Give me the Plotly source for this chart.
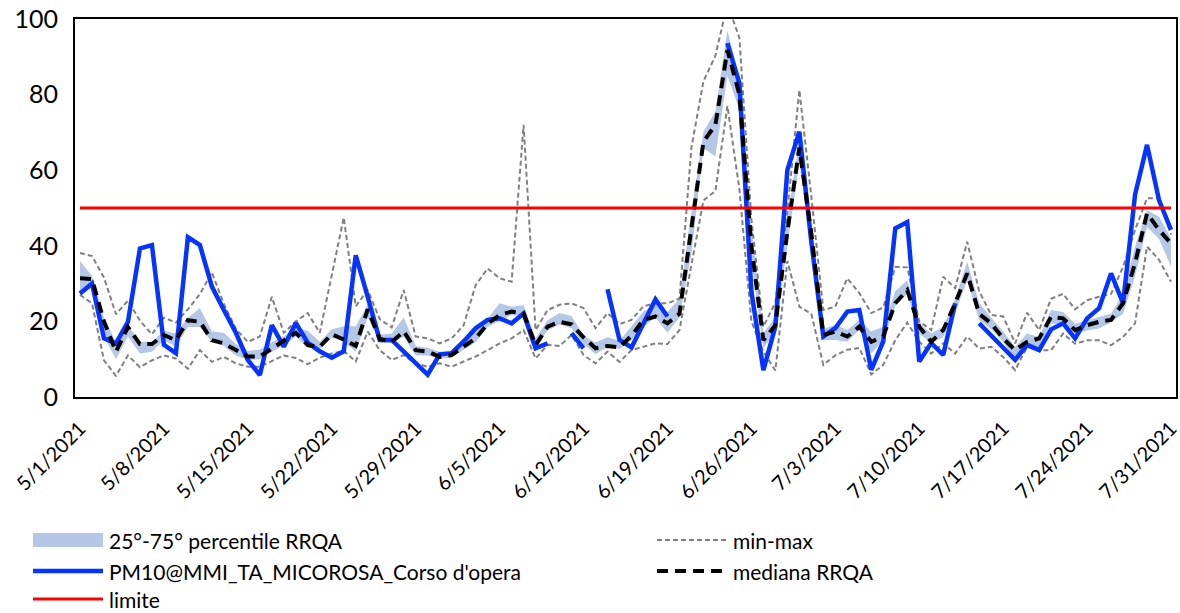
import pandas as pd
import plotly.graph_objects as go

dates = pd.date_range("2021-05-01", periods=92, freq="D")

pm10 = [27.4, 30, 15.5, 14.2, 19.9, 39.3, 40.2, 13.8, 11.6, 42.3,
        40.2, 29.2, 23, 17, 9.8, 5.8, 19, 13.3, 19.6, 14.3,
        12.1, 10.4, 12.1, 37.5, 26.5, 15.1, 15.1, 12, 9, 5.9,
        11.3, 11.6, 14.7, 18.2, 20.4, 20.8, 19.5, 22.1, 12.9, 14.2,
        None, 16.9, 12.9, None, 28.5, 15.1, 13.1, 19.5, 25.8, 21.3,
        None, None, None, None, 93.6, 83, 27.9, 7.1, 18.6, 60,
        70.2, 41, 16, 18.2, 22.6, 23, 7.2, 14.7, 44.6, 46.3,
        9.4, 14.3, 11.1, 24.8, None, 19.5, 16.4, 13.3, 9.8, 13.8,
        12.4, 17.9, 19.5, 15.5, 20.8, 23.5, 32.7, 24.8, 53.5, 66.7,
        52.1, 44.2]

mediana = [31.4, 31.2, 20, 12, 18.5, 14, 14, 16.4, 15, 20.3,
           19.9, 15, 14.2, 12.4, 10.7, 10.7, 12.9, 14.8, 17, 13.7,
           13.3, 16.6, 15.2, 13.5, 23.2, 15.4, 14.5, 17.4, 12.4, 12,
           10.6, 11.1, 13.3, 15.5, 19.4, 21.7, 22.6, 22.1, 13.7, 18.6,
           19.9, 19.2, 15.8, 12.9, 13.5, 13.1, 16.2, 20.4, 21.3, 19.5,
           22, 44, 67.5, 72, 91.8, 80, 40, 15, 19, 43.7,
           66, 43.3, 16.4, 17.3, 16, 18.6, 14.6, 16, 24.8, 28.3,
           18.6, 14.6, 17.7, 24.8, 32.7, 22, 19.5, 15.5, 12.4, 14.6,
           15.5, 21.2, 20.8, 17.7, 19, 19.9, 20.4, 24.8, 35.4, 48.6,
           44.2, 40.6]

p75 = [36, 32, 21, 14.5, 19, 14.5, 14.6, 17.5, 16.8, 21,
       23.5, 17.3, 17, 14, 12.2, 12.5, 14.5, 16, 18.3, 17.5,
       14.6, 17.9, 18.7, 18.7, 24.5, 16.5, 16.8, 21, 13.5, 13,
       12, 11.8, 15.5, 18, 20.7, 24.8, 23.9, 24.3, 15.5, 20.3,
       22.2, 21.4, 16.2, 14.4, 15.8, 14.9, 18.6, 22.6, 24.5, 22.5,
       26, 49, 70.2, 75.5, 97, 84, 45, 17, 21, 47,
       68, 46, 18, 19.1, 17.7, 20.4, 17.3, 18.6, 28, 30.9,
       19.5, 16.8, 18.6, 26, 35.8, 24.8, 21, 17.3, 13.2, 16.8,
       15.9, 23, 22.5, 19.4, 20.3, 21.2, 22, 27.3, 39.8, 49.4,
       47.7, 42]

p25 = [27, 29, 16, 10, 16, 11.5, 12, 15, 13.3, 18.5,
       18.5, 14.6, 13.5, 11, 9.8, 10, 12, 13.5, 16, 13,
       12.6, 15.7, 14.7, 12, 21.1, 14.5, 14.2, 16, 11, 11,
       10.2, 10.4, 12.5, 14.5, 18.5, 20, 21.7, 21.3, 13.3, 17.6,
       19.2, 18.2, 14, 11.3, 13.3, 12.7, 15.1, 18.6, 21, 17,
       21, 38, 65.8, 63.6, 85, 76, 36, 13, 17, 40,
       62, 40, 15, 15.1, 14.6, 17.7, 11.6, 15, 24, 27.4,
       16.8, 14.2, 15.9, 22.2, 30.9, 20.4, 18, 14.6, 9.8, 14.1,
       12.4, 19.4, 19.4, 16.8, 17.6, 18.1, 19.8, 22, 31.9, 45,
       41.8, 34.5]

vmax = [38.1, 37.3, 31.6, 21.9, 25.5, 20.2, 16.6, 21, 19.7, 23.2,
        27.2, 33, 24.6, 18, 14.6, 16, 26.5, 17, 20, 22.2,
        17, 32, 47.5, 24, 28.3, 20.6, 18.4, 28.3, 16, 15.5,
        14.2, 15.5, 19, 29.6, 34, 31.4, 30.5, 72, 17.7, 23,
        24.4, 24.8, 23.5, 18.2, 22.2, 19.3, 20.4, 24, 24.8, 24.8,
        26, 66, 83.5, 90.3, 104, 95, 47, 18.6, 25, 49,
        81.2, 53, 23, 23.9, 31.4, 27.5, 22.2, 23.7, 34.4, 34.3,
        20, 17.7, 31.8, 28.8, 41.1, 28, 21.7, 21.3, 14.2, 22.3,
        17.7, 26, 27.3, 23.2, 25.6, 26.5, 27.3, 34.4, 44.2, 52.6,
        52.6, 43]

vmin = [27, 24.8, 9.7, 5.6, 11, 7.9, 9.7, 11, 10.2, 7.5,
        12.4, 9.3, 10.6, 8.9, 8, 8, 9.5, 11, 10.3, 8.7,
        10.4, 11.5, 12.2, 9.4, 17.3, 12.4, 9.8, 11.1, 8.9, 8,
        8.9, 8, 9.4, 10.7, 12.4, 14.2, 15.5, 17.7, 10.2, 13.8,
        13.5, 16.4, 11.1, 8.9, 12, 9.3, 12.4, 13.3, 14.2, 14,
        17.7, 35, 52, 54.5, 77, 55, 20, 12, 7, 36,
        23.9, 22, 8.5, 11, 12.5, 13, 6, 8.5, 15, 19.7,
        14.6, 11.5, 14.2, 11.5, 16, 12.8, 13.3, 10.6, 7.1, 13.3,
        12.4, 12.4, 16.8, 14.1, 15, 15, 13.7, 15.9, 19.5, 39.8,
        36.3, 30.5]

limite = [50] * 92

legend_labels = ["25°-75° percentile RRQA", "min-max",
                 "PM10@MMI_TA_MICOROSA_Corso d'opera", "mediana RRQA", "limite"]

BAND = "#B4C7E7"
GREY = "#808080"
BLUE = "#0533FF"
RED = "#FF0000"
FONT = "Lato"

fig = go.Figure()
fig.add_trace(go.Scatter(x=dates, y=p25, mode="lines", line=dict(width=0, color=BAND),
                         showlegend=False, hoverinfo="skip"))
fig.add_trace(go.Scatter(x=dates, y=p75, mode="lines", line=dict(width=0, color=BAND),
                         fill="tonexty", fillcolor=BAND, showlegend=False, name=legend_labels[0]))
fig.add_trace(go.Scatter(x=dates, y=vmin, mode="lines", line=dict(color=GREY, width=2, dash="5px,3px"),
                         showlegend=False, name=legend_labels[1]))
fig.add_trace(go.Scatter(x=dates, y=vmax, mode="lines", line=dict(color=GREY, width=2, dash="5px,3px"),
                         showlegend=False, name=legend_labels[1]))
fig.add_trace(go.Scatter(x=dates, y=pm10, mode="lines", line=dict(color=BLUE, width=4.5),
                         connectgaps=False, showlegend=False, name=legend_labels[2]))
fig.add_trace(go.Scatter(x=dates, y=mediana, mode="lines", line=dict(color="black", width=4, dash="11px,7px"),
                         showlegend=False, name=legend_labels[3]))
fig.add_trace(go.Scatter(x=dates, y=limite, mode="lines", line=dict(color=RED, width=3),
                         showlegend=False, name=legend_labels[4]))

# the page's body margin is removed in the HTML (post_script), so the figure fills the window
W, H = 1180, 613
L, R, T, B = 75, 4, 19, 216
pw, ph = W - L - R, H - T - B


def px(xp):
    return (xp - L) / pw


def py(yp):
    return (H - B - yp) / ph


# legend (manual, positions in window pixels)
rows = [540, 571, 599]
items = [
    (0, 33, rows[0], "band"), (1, 657, rows[0], "minmax"),
    (2, 33, rows[1], "pm10"), (3, 657, rows[1], "median"),
    (4, 33, rows[2], "limite"),
]
shapes = []
annotations = []
for idx, x0, yc, kind in items:
    x1 = x0 + 70
    if kind == "band":
        shapes.append(dict(type="rect", xref="paper", yref="paper", x0=px(x0), x1=px(x1),
                           y0=py(yc + 7), y1=py(yc - 7), fillcolor=BAND, line=dict(width=0)))
    else:
        style = {
            "minmax": dict(color=GREY, width=2, dash="5px,3px"),
            "pm10": dict(color=BLUE, width=4.5),
            "median": dict(color="black", width=4, dash="11px,7px"),
            "limite": dict(color=RED, width=3),
        }[kind]
        shapes.append(dict(type="line", xref="paper", yref="paper", x0=px(x0), x1=px(x1),
                           y0=py(yc), y1=py(yc), line=style))
    annotations.append(dict(text=legend_labels[idx], xref="paper", yref="paper",
                            x=px(x1 + 4), y=py(yc), xanchor="left", yanchor="middle",
                            showarrow=False, font=dict(family=FONT, size=21, color="black")))

fig.update_layout(
    width=W, height=H,
    margin=dict(l=L, r=R, t=T, b=B, autoexpand=False),
    paper_bgcolor="white", plot_bgcolor="white",
    showlegend=False,
    shapes=shapes, annotations=annotations,
    font=dict(family=FONT, color="black"),
)
fig.update_xaxes(
    type="date", automargin=False,
    range=["2021-04-30 14:00", "2021-07-31 10:00"],
    tick0="2021-05-01", dtick=7 * 86400000,
    tickformat="%-m/%-d/%Y", tickangle=-45,
    tickfont=dict(family=FONT, size=20, color="black"),
    ticklabelstandoff=10, ticklabelshift=0,
    ticklabeloverflow="allow",
    showgrid=False, zeroline=False,
    showline=True, linecolor="black", linewidth=2, mirror=True,
    ticks="",
)
fig.update_yaxes(
    automargin=False,
    range=[0, 100], tickvals=[0, 20, 40, 60, 80, 100],
    tickfont=dict(family=FONT, size=25, color="black"),
    ticklabelstandoff=10, ticklabeloverflow="allow",
    showgrid=False, zeroline=False,
    showline=True, linecolor="black", linewidth=2, mirror=True,
    ticks="",
)

fig.write_html("out.html", config={"displayModeBar": False},
               post_script="document.body.style.margin='0px';")
